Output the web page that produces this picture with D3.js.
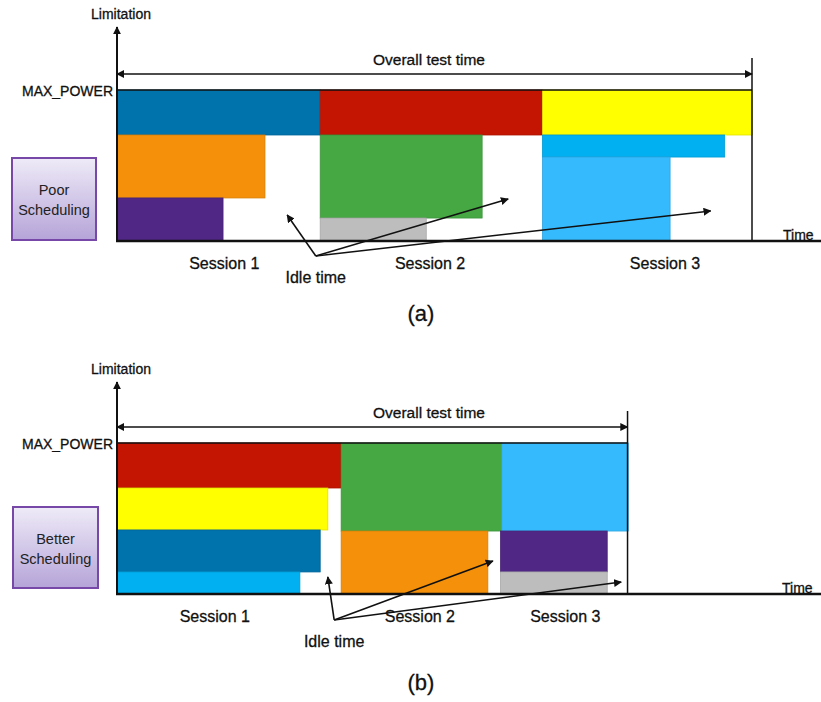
<!DOCTYPE html>
<html>
<head>
<meta charset="utf-8">
<script src="https://cdn.jsdelivr.net/npm/d3@7"></script>
<style>
  body { margin: 0; background: #fff; }
  text { font-family: "Liberation Sans", Arial, sans-serif; fill: #111; stroke: #111; stroke-width: 0.3px; }
</style>
</head>
<body>
<div id="chart"></div>
<script>
// test colours
const colors = {
  blue: "#0072ac", orange: "#f4900a", purple: "#512785", red: "#c41502",
  green: "#45a843", gray: "#bdbdbd", yellow: "#ffff00", cyan: "#00b0f0", sky: "#35bbfd"
};

// blocks: [test, startTime, endTime, powerLow, powerHigh]  (time: % of poor test time, power: % of MAX_POWER)
const poorTests   = ["blue", "orange", "purple", "red", "green", "gray", "yellow", "cyan", "sky"];
const poorStart   = [0, 0, 0, 32, 32, 32, 67, 67, 67];
const poorEnd     = [32, 23.3, 16.7, 67, 57.5, 48.7, 100, 95.7, 87.1];
const poorLow     = [70.2, 28.5, 0, 70.2, 15.2, 0, 70.2, 55.6, 0];
const poorHigh    = [100, 70.2, 28.5, 100, 70.2, 15.2, 100, 70.2, 55.6];

const betterTests = ["red", "yellow", "blue", "cyan", "green", "orange", "sky", "purple", "gray"];
const betterStart = [0, 0, 0, 0, 35.3, 35.3, 60.6, 60.4, 60.4];
const betterEnd   = [35.3, 33.2, 32, 28.8, 60.6, 58.4, 80.5, 77.2, 77.2];
const betterLow   = [70.2, 42.4, 14.6, 0, 41.7, 0, 41.7, 14.6, 0];
const betterHigh  = [100, 70.2, 42.4, 14.6, 100, 41.7, 100, 41.7, 14.6];

const sessionLabels = ["Session 1", "Session 2", "Session 3"];
const poorSessionAt = [16.9, 49.3, 86.3];
const betterSessionAt = [15.4, 47.7, 70.6];

// idle time arrows: origin then tips [time, power]
const poorIdle   = { from: [31.3, -9.9], to: [[26.8, 17.2], [61.6, 27.8], [93.5, 19.9]] };
const betterIdle = { from: [34.2, -17.2], to: [[33.2, 11.3], [59.2, 21.9], [79.4, 7.9]] };

const poorTotal = 100;
const betterTotal = 80.4;

const W = 821, H = 702;
const svg = d3.select("#chart").append("svg")
  .attr("width", W).attr("height", H);

const defs = svg.append("defs");
defs.append("marker")
  .attr("id", "head")
  .attr("viewBox", "0 0 10 10")
  .attr("refX", 9).attr("refY", 5)
  .attr("markerWidth", 8).attr("markerHeight", 8)
  .attr("markerUnits", "userSpaceOnUse")
  .attr("orient", "auto-start-reverse")
  .append("path").attr("d", "M0,0L10,5L0,10z").attr("fill", "#111");

const grad = defs.append("linearGradient").attr("id", "boxfill")
  .attr("x1", 0).attr("y1", 0).attr("x2", 0).attr("y2", 1);
grad.append("stop").attr("offset", "0%").attr("stop-color", "#efebf8");
grad.append("stop").attr("offset", "100%").attr("stop-color", "#b5a4d8");

function drawPanel(p) {
  const g = svg.append("g");
  const x = d3.scaleLinear().domain([0, 100]).range([117, 752]);
  const y = d3.scaleLinear().domain([0, 100]).range([p.bottom, p.bottom - 151]);
  const xEnd = x(p.total);

  const blocks = p.tests.map((t, i) => ({ t, x0: p.start[i], x1: p.end[i], y0: p.low[i], y1: p.high[i] }));

  g.selectAll(".block")
    .data(blocks)
    .enter()
    .append("rect")
    .attr("class", "block")
    .attr("x", d => x(d.x0))
    .attr("y", d => y(d.y1))
    .attr("width", d => x(d.x1) - x(d.x0))
    .attr("height", d => y(d.y0) - y(d.y1))
    .attr("fill", d => colors[d.t])
    .attr("stroke", d => d3.color(colors[d.t]).darker(0.35))
    .attr("stroke-width", 0.8);

  // MAX_POWER line
  g.append("line")
    .attr("x1", x(0)).attr("x2", xEnd)
    .attr("y1", y(100)).attr("y2", y(100))
    .attr("stroke", "#111").attr("stroke-width", 1.5);
  g.append("text")
    .attr("x", 113).attr("y", y(100) + 6)
    .attr("text-anchor", "end").attr("font-size", 14)
    .text("MAX_POWER");

  // end-of-test vertical line
  g.append("line")
    .attr("x1", xEnd).attr("x2", xEnd)
    .attr("y1", y(100) - 32).attr("y2", y(0))
    .attr("stroke", "#111").attr("stroke-width", 1.5);

  // overall test time arrow
  g.append("line")
    .attr("x1", x(0)).attr("x2", xEnd)
    .attr("y1", y(100) - 16).attr("y2", y(100) - 16)
    .attr("stroke", "#111").attr("stroke-width", 1.5)
    .attr("marker-start", "url(#head)")
    .attr("marker-end", "url(#head)");
  g.append("text")
    .attr("x", 429).attr("y", y(100) - 25)
    .attr("text-anchor", "middle").attr("font-size", 15.5)
    .text("Overall test time");

  // axes
  g.append("line")
    .attr("x1", x(0)).attr("x2", x(0))
    .attr("y1", y(0)).attr("y2", p.axisTop)
    .attr("stroke", "#111").attr("stroke-width", 2)
    .attr("marker-end", "url(#head)");
  g.append("line")
    .attr("x1", x(0) - 1).attr("x2", W)
    .attr("y1", y(0)).attr("y2", y(0))
    .attr("stroke", "#111").attr("stroke-width", 2.5);
  g.append("text")
    .attr("x", 121).attr("y", p.axisTop - 8)
    .attr("text-anchor", "middle").attr("font-size", 14)
    .text("Limitation");
  g.append("text")
    .attr("x", p.timeX).attr("y", y(0) - 1.5)
    .attr("font-size", 14)
    .text("Time");

  // session labels
  g.selectAll(".session")
    .data(sessionLabels)
    .enter()
    .append("text")
    .attr("class", "session")
    .attr("x", (d, i) => x(p.sessionAt[i]))
    .attr("y", y(0) + 28)
    .attr("text-anchor", "middle").attr("font-size", 16)
    .text(d => d);

  // idle time arrows
  g.selectAll(".idle")
    .data(p.idle.to)
    .enter()
    .append("line")
    .attr("class", "idle")
    .attr("x1", x(p.idle.from[0])).attr("y1", y(p.idle.from[1]))
    .attr("x2", d => x(d[0])).attr("y2", d => y(d[1]))
    .attr("stroke", "#111").attr("stroke-width", 1.6)
    .attr("marker-end", "url(#head)");
  g.append("text")
    .attr("x", x(p.idle.from[0])).attr("y", y(p.idle.from[1]) + 27)
    .attr("text-anchor", "middle").attr("font-size", 16)
    .text("Idle time");

  // scheduling box
  g.append("rect")
    .attr("x", p.box[0]).attr("y", p.box[1])
    .attr("width", p.box[2]).attr("height", p.box[3])
    .attr("fill", "url(#boxfill)")
    .attr("stroke", "#7748a8").attr("stroke-width", 2);
  g.selectAll(".boxtext")
    .data(p.boxText)
    .enter()
    .append("text")
    .attr("x", p.box[0] + p.box[2] / 2)
    .attr("y", (d, i) => p.box[1] + 37 + i * 20)
    .attr("text-anchor", "middle").attr("font-size", 14.5)
    .style("fill", "#222").style("stroke", "none")
    .text(d => d);

  g.append("text")
    .attr("x", 421).attr("y", p.captionY)
    .attr("text-anchor", "middle").attr("font-size", 22)
    .text(p.caption);
}

drawPanel({
  bottom: 241, axisTop: 27, total: poorTotal, timeX: 783,
  tests: poorTests, start: poorStart, end: poorEnd, low: poorLow, high: poorHigh,
  sessionAt: poorSessionAt, idle: poorIdle,
  box: [12, 158, 84, 82], boxText: ["Poor", "Scheduling"],
  caption: "(a)", captionY: 321
});

drawPanel({
  bottom: 594, axisTop: 382, total: betterTotal, timeX: 782,
  tests: betterTests, start: betterStart, end: betterEnd, low: betterLow, high: betterHigh,
  sessionAt: betterSessionAt, idle: betterIdle,
  box: [13, 507, 85, 81], boxText: ["Better", "Scheduling"],
  caption: "(b)", captionY: 690
});
</script>
</body>
</html>
